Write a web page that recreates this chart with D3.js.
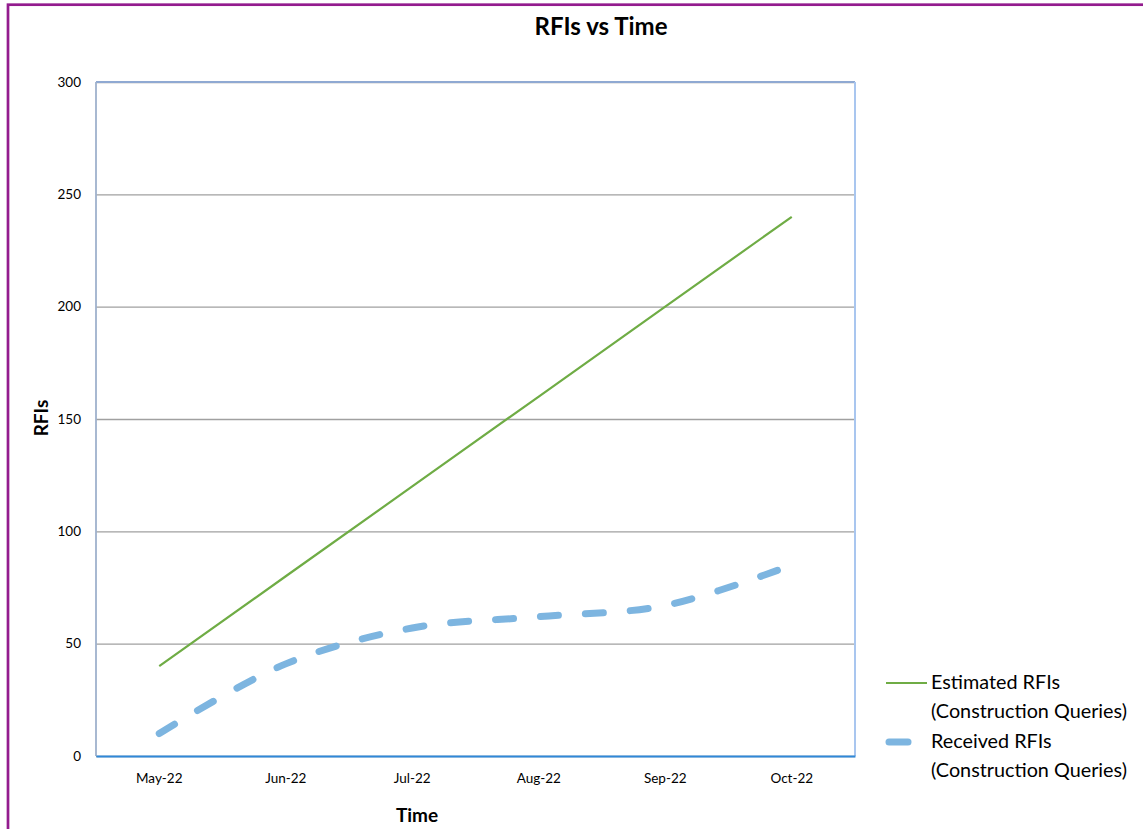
<!DOCTYPE html>
<html>
<head>
<meta charset="utf-8">
<script src="https://cdn.jsdelivr.net/npm/d3@7"></script>
<style>
  html, body { margin: 0; padding: 0; background: #fff; }
  svg { display: block; }
  text { font-family: Lato, "Open Sans", sans-serif; fill: #000; }
</style>
</head>
<body>
<svg id="chart" width="1143" height="829"></svg>
<script>
// Monthly RFI counts
const months = ["May-22", "Jun-22", "Jul-22", "Aug-22", "Sep-22", "Oct-22"];
const estimatedRFIs = [40, 80, 120, 160, 200, 240];
const receivedRFIs = [10, 41, 57, 62, 67, 85];
const yTicks = [0, 50, 100, 150, 200, 250, 300];
const seriesNames = [
  ["Estimated RFIs", "(Construction Queries)"],
  ["Received RFIs", "(Construction Queries)"]
];

const svg = d3.select("#chart");

// Outer frame
svg.append("rect")
  .attr("x", 8).attr("y", 4.7)
  .attr("width", 1200).attr("height", 900)
  .attr("fill", "#fff")
  .attr("stroke", "#931c8e").attr("stroke-width", 2.7);

const plot = { left: 96, right: 855, top: 82, bottom: 756 };

const x = d3.scaleBand().domain(months).range([plot.left, plot.right]);
const xc = d => x(d) + x.bandwidth() / 2;
const y = d3.scaleLinear().domain([0, 300]).range([plot.bottom, plot.top]);

// Title
svg.append("text")
  .attr("x", 601).attr("y", 35)
  .attr("text-anchor", "middle")
  .attr("font-size", 24).attr("font-weight", "bold")
  .text("RFIs vs Time");

// Horizontal gridlines and y tick labels
const yAxis = svg.append("g")
  .attr("transform", `translate(${plot.left},0)`)
  .call(d3.axisLeft(y).tickValues(yTicks).tickSize(-(plot.right - plot.left)).tickPadding(15));
yAxis.select(".domain").remove();
yAxis.selectAll(".tick line").attr("stroke", "#a0a0a0").attr("stroke-width", 1.3);
yAxis.selectAll(".tick text")
  .attr("font-size", 13.5).attr("font-family", "Lato, sans-serif").attr("fill", "#000");

// Plot area edges
svg.append("line").attr("x1", plot.left).attr("x2", plot.right).attr("y1", plot.top).attr("y2", plot.top)
  .attr("stroke", "#8fa9d2").attr("stroke-width", 1.8);
svg.append("line").attr("x1", plot.left).attr("x2", plot.left).attr("y1", plot.top).attr("y2", plot.bottom)
  .attr("stroke", "#9fb1cc").attr("stroke-width", 1.8);
svg.append("line").attr("x1", plot.right).attr("x2", plot.right).attr("y1", plot.top).attr("y2", plot.bottom)
  .attr("stroke", "#a9c6ef").attr("stroke-width", 2);

// X axis
const xAxis = svg.append("g")
  .attr("transform", `translate(0,${plot.bottom})`)
  .call(d3.axisBottom(x).tickSize(0).tickPadding(17));
xAxis.select(".domain").attr("stroke", "#2f88d8").attr("stroke-width", 2);
xAxis.selectAll(".tick text")
  .attr("font-size", 13.5).attr("font-family", "Lato, sans-serif").attr("fill", "#000");

// Axis titles
svg.append("text")
  .attr("x", 417).attr("y", 822)
  .attr("text-anchor", "middle")
  .attr("font-size", 19).attr("font-weight", "bold")
  .text("Time");
svg.append("text")
  .attr("transform", "translate(48,418) rotate(-90)")
  .attr("text-anchor", "middle")
  .attr("font-size", 19).attr("font-weight", "bold")
  .text("RFIs");

// Series
const estLine = d3.line().x((d, i) => xc(months[i])).y(d => y(d));
svg.append("path")
  .datum(estimatedRFIs)
  .attr("d", estLine)
  .attr("fill", "none")
  .attr("stroke", "#6fac45").attr("stroke-width", 2.2);

const recLine = d3.line().x((d, i) => xc(months[i])).y(d => y(d)).curve(d3.curveCatmullRom.alpha(0.5));
svg.append("path")
  .datum(receivedRFIs)
  .attr("d", recLine)
  .attr("fill", "none")
  .attr("stroke", "#7db5e0").attr("stroke-width", 7)
  .attr("stroke-linecap", "round")
  .attr("stroke-dasharray", "18,27");

// Legend
const legend = svg.append("g");
legend.append("line")
  .attr("x1", 886).attr("x2", 927).attr("y1", 683).attr("y2", 683)
  .attr("stroke", "#6fac45").attr("stroke-width", 2.2);
legend.append("line")
  .attr("x1", 889).attr("x2", 908).attr("y1", 742).attr("y2", 742)
  .attr("stroke", "#7db5e0").attr("stroke-width", 7).attr("stroke-linecap", "round");
const legendY = [689, 748];
seriesNames.forEach((lines, i) => {
  lines.forEach((t, j) => {
    legend.append("text")
      .attr("x", 931).attr("y", legendY[i] + j * 29)
      .attr("font-size", 19.8)
      .text(t);
  });
});
</script>
</body>
</html>
